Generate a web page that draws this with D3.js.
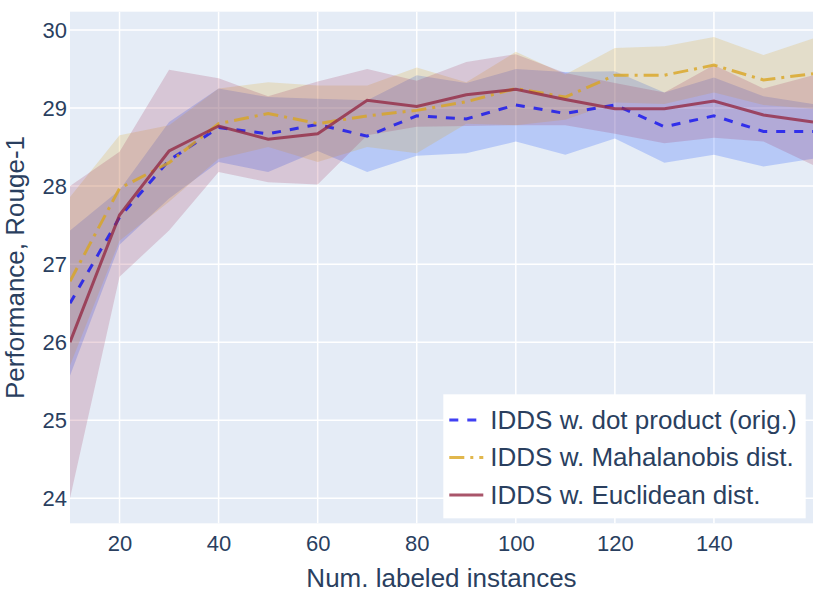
<!DOCTYPE html>
<html>
<head>
<meta charset="utf-8">
<script src="https://cdn.jsdelivr.net/npm/d3@7"></script>
<style>
  body { margin: 0; background: #fff; }
  text { font-family: "Liberation Sans", Arial, sans-serif; fill: #2a3f5f; }
</style>
</head>
<body>
<svg id="chart" width="831" height="593"></svg>
<script>
// number of labeled instances
var labeled = [10, 20, 30, 40, 50, 60, 70, 80, 90, 100, 110, 120, 130, 140, 150, 160]

// IDDS w. dot product (orig.)
var dotMean  = [26.50, 27.60, 28.33, 28.75, 28.67, 28.79, 28.64, 28.90, 28.86, 29.04, 28.93, 29.04, 28.76, 28.90, 28.70, 28.70]
var dotUpper = [27.43, 27.95, 28.82, 29.25, 29.14, 29.12, 29.10, 29.42, 29.32, 29.50, 29.46, 29.47, 29.20, 29.39, 29.15, 29.05]
var dotLower = [25.57, 27.25, 27.84, 28.31, 28.18, 28.45, 28.18, 28.39, 28.42, 28.57, 28.40, 28.61, 28.30, 28.40, 28.25, 28.35]

// IDDS w. Mahalanobis dist.
var mahaMean  = [26.78, 27.97, 28.30, 28.80, 28.93, 28.80, 28.90, 28.97, 29.08, 29.25, 29.14, 29.42, 29.42, 29.55, 29.36, 29.44]
var mahaUpper = [27.86, 28.65, 28.78, 29.25, 29.33, 29.29, 29.29, 29.52, 29.33, 29.72, 29.43, 29.77, 29.79, 29.91, 29.68, 29.89]
var mahaLower = [25.70, 27.30, 27.80, 28.35, 28.50, 28.31, 28.50, 28.42, 28.80, 28.78, 28.85, 29.07, 29.05, 29.20, 29.04, 28.99]

// IDDS w. Euclidean dist.
var euclMean  = [26.00, 27.63, 28.45, 28.77, 28.60, 28.67, 29.10, 29.02, 29.17, 29.24, 29.11, 28.99, 28.99, 29.09, 28.91, 28.82]
var euclUpper = [28.00, 28.44, 29.49, 29.38, 29.15, 29.34, 29.50, 29.35, 29.59, 29.69, 29.45, 29.32, 29.20, 29.55, 29.25, 29.42]
var euclLower = [24.00, 26.84, 27.43, 28.18, 28.05, 28.02, 28.65, 28.76, 28.77, 28.78, 28.78, 28.67, 28.55, 28.62, 28.57, 28.27]

var seriesNames = ["IDDS w. dot product (orig.)", "IDDS w. Mahalanobis dist.", "IDDS w. Euclidean dist."]
var xTicks = [20, 40, 60, 80, 100, 120, 140]
var yTicks = [24, 25, 26, 27, 28, 29, 30]

var margin = {left: 70, right: 18, top: 11.7, bottom: 69.7}
var width = 831 - margin.left - margin.right
var height = 593 - margin.top - margin.bottom

var svg = d3.select("#chart")
var plot = svg.append("g")
   .attr("transform", "translate(" + margin.left + "," + margin.top + ")")

var xScale = d3.scaleLinear().domain([10, 160]).range([0, width])
var yScale = d3.scaleLinear().domain([23.68, 30.234]).range([height, 0])

plot.append("rect")
   .attr("width", width)
   .attr("height", height)
   .attr("fill", "#E5ECF6")

// grid
plot.selectAll(".xgrid").data(xTicks).enter().append("line")
   .attr("class", "xgrid")
   .attr("x1", d => xScale(d)).attr("x2", d => xScale(d))
   .attr("y1", 0).attr("y2", height)
   .attr("stroke", "#fff").attr("stroke-width", 1.5)
plot.selectAll(".ygrid").data(yTicks).enter().append("line")
   .attr("class", "ygrid")
   .attr("x1", 0).attr("x2", width)
   .attr("y1", d => yScale(d)).attr("y2", d => yScale(d))
   .attr("stroke", "#fff").attr("stroke-width", 1.5)

var series = [
   {name: seriesNames[0], mean: dotMean, upper: dotUpper, lower: dotLower,
    line: "#1010f0", fill: "rgba(0,64,255,0.2)", dash: "9,9"},
   {name: seriesNames[1], mean: mahaMean, upper: mahaUpper, lower: mahaLower,
    line: "#DAA520", fill: "rgba(218,165,32,0.2)", dash: "15,6,3,6"},
   {name: seriesNames[2], mean: euclMean, upper: euclUpper, lower: euclLower,
    line: "#932a45", fill: "rgba(160,50,90,0.2)", dash: null}
]

var area = d3.area()
   .x((d, i) => xScale(labeled[i]))
   .y0(d => yScale(d[0]))
   .y1(d => yScale(d[1]))

var line = d3.line()
   .x((d, i) => xScale(labeled[i]))
   .y(d => yScale(d))

var clip = svg.append("defs").append("clipPath").attr("id", "plot-clip")
clip.append("rect").attr("width", width).attr("height", height)

var bands = plot.append("g").attr("clip-path", "url(#plot-clip)")
series.forEach(function(s) {
   bands.append("path")
      .datum(s.lower.map((v, i) => [v, s.upper[i]]))
      .attr("d", area)
      .attr("fill", s.fill)
})
series.forEach(function(s) {
   bands.append("path")
      .datum(s.mean)
      .attr("d", line)
      .attr("fill", "none")
      .attr("stroke", s.line)
      .attr("stroke-opacity", 0.8)
      .attr("stroke-width", 3)
      .attr("stroke-dasharray", s.dash)
})

// axes
var xAxis = d3.axisBottom(xScale).tickValues(xTicks).tickSize(0).tickPadding(12)
var yAxis = d3.axisLeft(yScale).tickValues(yTicks).tickFormat(d3.format("d")).tickSize(0).tickPadding(3)

plot.append("g")
   .attr("transform", "translate(0," + height + ")")
   .call(xAxis)
   .call(g => g.select(".domain").remove())
   .selectAll("text").style("font-size", "22px").attr("fill", "#2a3f5f")

plot.append("g")
   .call(yAxis)
   .call(g => g.select(".domain").remove())
   .selectAll("text").style("font-size", "22px").attr("fill", "#2a3f5f")

svg.append("text")
   .attr("x", margin.left + width / 2)
   .attr("y", 587)
   .attr("text-anchor", "middle")
   .style("font-size", "26px")
   .text("Num. labeled instances")

svg.append("text")
   .attr("transform", "translate(24," + (margin.top + height / 2) + ") rotate(-90)")
   .attr("text-anchor", "middle")
   .style("font-size", "26px")
   .text("Performance, Rouge-1")

// legend
var legend = svg.append("g").attr("transform", "translate(443.3,394.3)")
legend.append("rect")
   .attr("width", 362.4)
   .attr("height", 124)
   .attr("fill", "#fff")

series.forEach(function(s, i) {
   var cy = 25.7 + i * 37.5
   legend.append("line")
      .attr("x1", 6).attr("x2", 40)
      .attr("y1", cy).attr("y2", cy)
      .attr("stroke", s.line)
      .attr("stroke-opacity", 0.8)
      .attr("stroke-width", 3)
      .attr("stroke-dasharray", s.dash)
   legend.append("text")
      .attr("x", 47)
      .attr("y", cy + 9)
      .style("font-size", "26px")
      .text(s.name)
})
</script>
</body>
</html>
